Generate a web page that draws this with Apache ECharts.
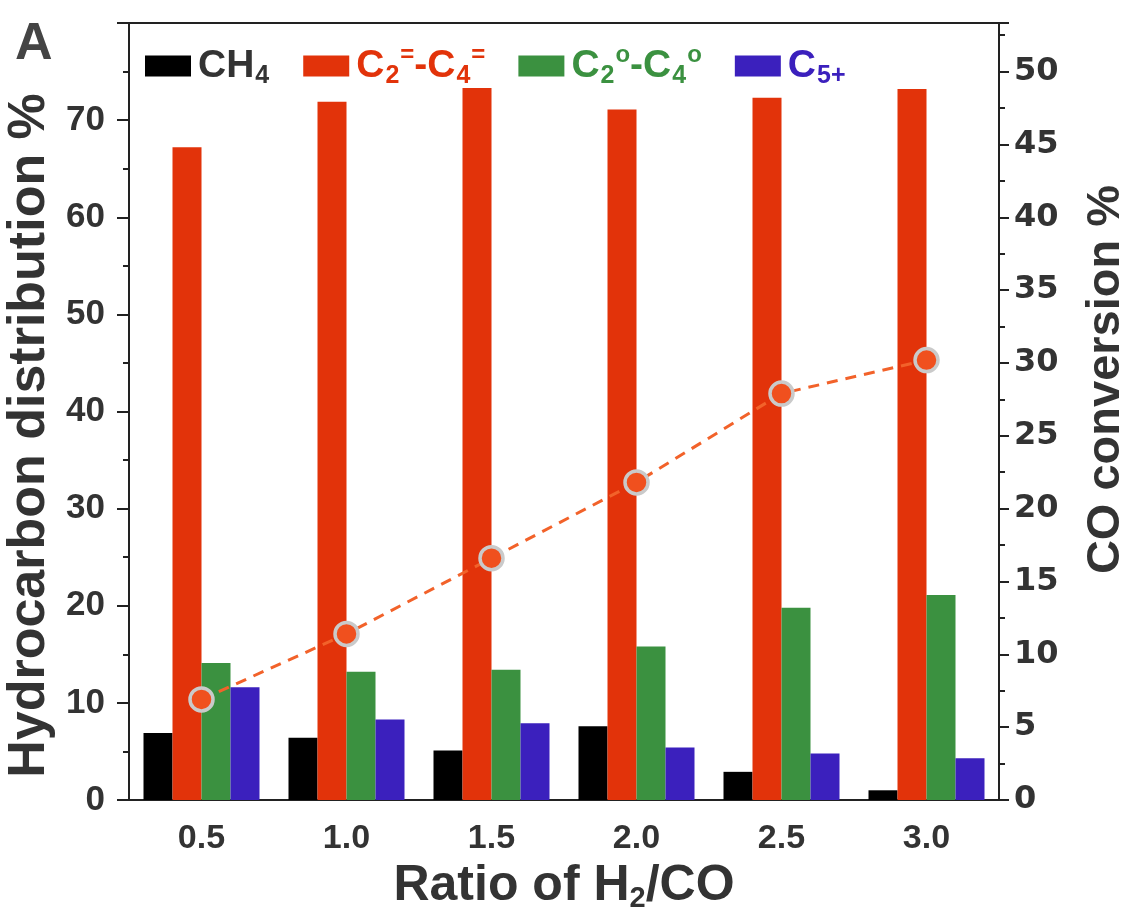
<!DOCTYPE html>
<html>
<head>
<meta charset="utf-8">
<script src="https://cdn.jsdelivr.net/npm/echarts@6/dist/echarts.min.js"></script>
<style>
  html, body { margin: 0; padding: 0; background: #fff; }
</style>
</head>
<body>
<div id="myChart" style="width: 1129px; height: 918px;"></div>
<script>
// H2/CO ratio categories
var ratios = ['0.5', '1.0', '1.5', '2.0', '2.5', '3.0'];
// hydrocarbon distribution (%)
var ch4 = [6.9, 6.4, 5.1, 7.6, 2.9, 1.0];
var olefins = [67.2, 71.9, 73.3, 71.1, 72.3, 73.2];
var paraffins = [14.1, 13.2, 13.4, 15.8, 19.8, 21.1];
var c5plus = [11.6, 8.3, 7.9, 5.4, 4.8, 4.3];
// CO conversion (%)
var coConv = [6.9, 11.4, 16.6, 21.8, 27.9, 30.2];

var names = ['CH4', 'C2=-C4=', 'C2o-C4o', 'C5+'];
var colors = ['#000000', '#e2330a', '#3b9140', '#3b20bd'];

var font = 'Liberation Sans, Arial, sans-serif';
var axisCol = '#222';
var txtCol = '#333';

function richFor(c) {
  return {
    m: { color: c, fontSize: 39, fontWeight: 'bold', fontFamily: font, lineHeight: 46, verticalAlign: 'middle' },
    s: { color: c, fontSize: 25, fontWeight: 'bold', fontFamily: font, lineHeight: 24, verticalAlign: 'bottom', padding: [0, 1, 0, 1] },
    p: { color: c, fontSize: 24, fontWeight: 'bold', fontFamily: font, lineHeight: 24, verticalAlign: 'top' }
  };
}
var rich = {};
['k', 'r', 'g', 'b'].forEach(function (k, i) {
  var c = i === 0 ? txtCol : colors[i];
  var r = richFor(c);
  rich[k + 'm'] = r.m; rich[k + 's'] = r.s; rich[k + 'p'] = r.p;
});

var myChart = echarts.init(document.getElementById('myChart'));

var option = {
  backgroundColor: '#fff',
  animation: false,
  title: {
    text: 'A',
    left: 10,
    top: 14,
    textStyle: { fontSize: 52, fontWeight: 'bold', color: '#444', fontFamily: font }
  },
  legend: {
    left: 140,
    top: 38,
    itemWidth: 46,
    itemHeight: 21,
    itemGap: 33,
    icon: 'rect',
    data: names,
    formatter: function (name) {
      if (name === 'CH4') return '{km|CH}{ks|4}';
      if (name === 'C2=-C4=') return '{rm|C}{rs|2}{rp|=}{rm|-C}{rs|4}{rp|=}';
      if (name === 'C2o-C4o') return '{gm|C}{gs|2}{gp|o}{gm|-C}{gs|4}{gp|o}';
      return '{bm|C}{bs|5+}';
    },
    textStyle: { rich: rich, padding: [0, 0, 0, 2] }
  },
  grid: {
    left: 129,
    right: 130,
    top: 23,
    bottom: 118,
    outerBoundsMode: 'none',
    show: true,
    borderColor: axisCol,
    borderWidth: 2
  },
  xAxis: [{
    type: 'category',
    data: ratios,
    name: '{t|Ratio of H}{s|2}{t|/CO}',
    nameLocation: 'middle',
    nameGap: 56,
    nameTextStyle: {
      rich: {
        t: { fontSize: 50, fontWeight: 'bold', color: txtCol, fontFamily: font, lineHeight: 56 },
        s: { fontSize: 29, fontWeight: 'bold', color: txtCol, fontFamily: font, lineHeight: 28, verticalAlign: 'bottom' }
      }
    },
    axisLine: { lineStyle: { color: axisCol, width: 2 } },
    axisTick: { alignWithLabel: true, length: 10, lineStyle: { color: axisCol, width: 2 } },
    axisLabel: { fontSize: 34, fontWeight: 'bold', color: txtCol, fontFamily: font, margin: 22 }
  }, {
    type: 'category',
    data: ratios,
    position: 'bottom',
    axisLine: { show: false },
    axisTick: { length: 6, lineStyle: { color: axisCol, width: 2 } },
    axisLabel: { show: false }
  }],
  yAxis: [{
    type: 'value',
    min: 0,
    max: 80,
    interval: 10,
    name: 'Hydrocarbon distribution %',
    nameLocation: 'middle',
    nameGap: 72,
    nameTextStyle: { fontSize: 52, fontWeight: 'bold', color: txtCol, fontFamily: font, padding: [0, 48, 0, 0] },
    splitLine: { show: false },
    axisLine: { show: true, lineStyle: { color: axisCol, width: 2 } },
    axisTick: { show: true, length: 12, lineStyle: { color: axisCol, width: 2 } },
    minorTick: { show: true, splitNumber: 2, length: 6, lineStyle: { color: axisCol, width: 2 } },
    axisLabel: { showMaxLabel: false, fontSize: 35, fontWeight: 'bold', color: txtCol, fontFamily: font, margin: 24 }
  }, {
    type: 'value',
    min: 0,
    max: 160 / 3,
    interval: 5,
    position: 'right',
    name: 'CO conversion %',
    nameLocation: 'middle',
    nameGap: 84,
    nameRotate: 90,
    nameTextStyle: { fontSize: 47, fontWeight: 'bold', color: txtCol, fontFamily: font, padding: [0, 0, 0, 64] },
    splitLine: { show: false },
    axisLine: { show: true, lineStyle: { color: axisCol, width: 2 } },
    axisTick: { show: true, length: 10, lineStyle: { color: axisCol, width: 2 } },
    minorTick: { show: true, splitNumber: 2, length: 6, lineStyle: { color: axisCol, width: 2 } },
    axisLabel: { showMaxLabel: false, fontSize: 32, fontWeight: 'bold', color: txtCol, fontFamily: 'DejaVu Sans, sans-serif', margin: 15 }
  }],
  series: [
    { name: names[0], type: 'bar', data: ch4, barWidth: 29, barGap: '0%', itemStyle: { color: colors[0] } },
    { name: names[1], type: 'bar', data: olefins, barWidth: 29, barGap: '0%', itemStyle: { color: colors[1] } },
    { name: names[2], type: 'bar', data: paraffins, barWidth: 29, barGap: '0%', itemStyle: { color: colors[2] } },
    { name: names[3], type: 'bar', data: c5plus, barWidth: 29, barGap: '0%', itemStyle: { color: colors[3] } },
    {
      name: 'CO conversion',
      type: 'line',
      yAxisIndex: 1,
      data: coConv,
      z: 5,
      symbol: 'circle',
      symbolSize: 23,
      lineStyle: { color: '#f2622a', width: 3, type: [11, 8] },
      itemStyle: { color: '#f0501e', borderColor: '#cacaca', borderWidth: 3.5 }
    }
  ]
};

myChart.setOption(option);
</script>
</body>
</html>
